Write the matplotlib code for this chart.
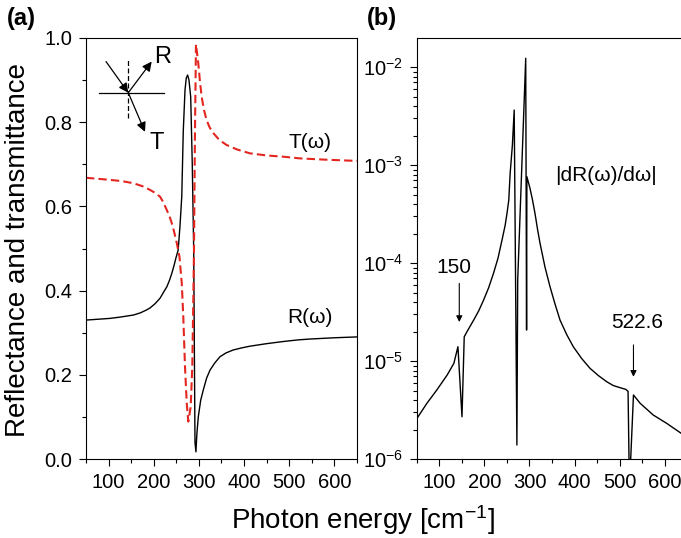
"""Reflectance/transmittance near the phonon resonance and |dR/dw| on a log scale."""

import matplotlib

matplotlib.use("Agg")
import matplotlib.pyplot as plt
from matplotlib.ticker import MultipleLocator, LogLocator, NullFormatter

plt.rcParams["font.family"] = ["Liberation Sans", "DejaVu Sans"]
plt.rcParams["mathtext.fontset"] = "custom"
plt.rcParams["mathtext.rm"] = "Liberation Sans"
plt.rcParams["mathtext.it"] = "Liberation Sans:italic"

# (a) reflectance R(w)
r_energy = [50, 103, 125, 155, 170, 184, 192, 203, 214, 221, 229, 235, 240, 245, 249,
            254, 258, 262, 265.4, 269.2, 272, 275, 278, 281.8, 285.3, 288.4, 291.3,
            293.4, 295.5, 298.6, 304, 309.7, 317, 324.5, 335, 346.7, 360, 376, 395,
            413, 450, 486, 520, 546, 600, 650]
r_value = [0.330, 0.334, 0.337, 0.342, 0.347, 0.354, 0.359, 0.369, 0.382, 0.395, 0.409,
           0.425, 0.441, 0.460, 0.477, 0.496, 0.552, 0.623, 0.780, 0.876, 0.905, 0.912,
           0.900, 0.860, 0.700, 0.500, 0.040, 0.017, 0.060, 0.100, 0.140, 0.164, 0.192,
           0.211, 0.228, 0.243, 0.252, 0.259, 0.264, 0.268, 0.274, 0.279, 0.283, 0.285,
           0.288, 0.290]

# (a) transmittance T(w)
t_energy = [50, 103, 130, 155, 175, 192, 203, 214, 221, 229, 235, 240, 245, 251, 257,
            262, 265.4, 269.2, 273, 276.5, 281.8, 285.3, 287.6, 289.1, 291.3, 293.5,
            298.6, 302, 306, 311, 317, 324, 332, 345, 361, 385, 413, 450, 487, 524,
            580, 650]
t_value = [0.668, 0.663, 0.660, 0.655, 0.648, 0.639, 0.632, 0.623, 0.610, 0.591, 0.576,
           0.560, 0.540, 0.513, 0.480, 0.418, 0.338, 0.219, 0.133, 0.089, 0.124, 0.219,
           0.378, 0.496, 0.780, 0.985, 0.940, 0.900, 0.861, 0.830, 0.805, 0.787, 0.774,
           0.758, 0.746, 0.735, 0.726, 0.721, 0.718, 0.714, 0.711, 0.708]

# (b) |dR/dw|
d_energy = [50, 72, 94, 117, 132, 141, 150, 155, 161, 176, 187, 198, 209, 220, 230,
            239, 246, 250, 254, 257, 262, 266, 272, 273.8, 291.6, 293.5, 294.2, 301,
            306.7, 312.2, 317.8, 323.3, 334.4, 345.6, 356.7, 367.8, 382.7, 397.3, 416,
            434.4, 452.9, 471.6, 486.2, 501, 514, 519, 522, 531, 546, 575, 605, 637]
d_value = [2.60e-6, 3.70e-6, 5.06e-6, 7.19e-6, 9.48e-6, 1.40e-5, 2.70e-6, 1.77e-5,
           1.99e-5, 2.62e-5, 3.24e-5, 4.19e-5, 5.56e-5, 7.85e-5, 1.12e-4, 1.72e-4,
           2.44e-4, 3.21e-4, 4.40e-4, 8.22e-4, 1.60e-3, 3.64e-3, 1.39e-6, 6.70e-5,
           1.23e-2, 2.07e-5, 7.60e-4, 5.82e-4, 4.40e-4, 3.21e-4, 2.22e-4, 1.60e-4,
           9.10e-5, 5.73e-5, 3.82e-5, 2.62e-5, 1.86e-5, 1.40e-5, 1.06e-5, 8.43e-6,
           7.11e-6, 6.15e-6, 5.62e-6, 5.35e-6, 5.14e-6, 4.90e-6, 5.0e-7, 4.50e-6,
           3.70e-6, 2.81e-6, 2.31e-6, 1.83e-6]

# marked features in (b): label, text x, text height, arrow x, arrow top, arrow tip
marks = [("150", 132, 8.9e-5, 144, 6.2e-5, 2.5e-5),
         ("522.6", 539, 2.46e-5, 531, 1.46e-5, 6.9e-6)]

RED = "#e3261f"
TICK_SIZE = 14.5

fig = plt.figure(figsize=(6.81, 5.38), dpi=100)
ax_a = fig.add_axes([0.1263, 0.1468, 0.3979, 0.7826])
ax_b = fig.add_axes([0.6123, 0.1468, 0.3906, 0.7826])

# ---- panel (a)
ax_a.plot(r_energy, r_value, color="black", lw=1.0)
ax_a.plot(t_energy, t_value, color=RED, lw=1.5, linestyle=(0, (4, 2)))
ax_a.set_xlim(50, 650)
ax_a.set_ylim(0, 1.0)
ax_a.xaxis.set_major_locator(MultipleLocator(100))
ax_a.xaxis.set_minor_locator(MultipleLocator(50))
ax_a.yaxis.set_major_locator(MultipleLocator(0.2))
ax_a.yaxis.set_minor_locator(MultipleLocator(0.1))
ax_a.yaxis.set_major_formatter(plt.FormatStrFormatter("%.1f"))
ax_a.text(545, 0.751, "T(ω)", fontsize=15, ha="center", va="center")
ax_a.text(545, 0.337, "R(ω)", fontsize=15, ha="center", va="center")

# little reflection/transmission sketch
arrow = dict(arrowstyle="-|>", color="black", lw=0.9, mutation_scale=14, shrinkA=0, shrinkB=0)
ax_a.plot([79.4, 222.7], [0.869, 0.869], color="black", lw=0.9)
ax_a.plot([143.6, 143.6], [0.810, 0.948], color="black", lw=0.9, linestyle=(0, (4, 2)))
ax_a.annotate("", xy=(143.6, 0.870), xytext=(94.3, 0.944), arrowprops=arrow)
ax_a.annotate("", xy=(195.4, 0.944), xytext=(143.6, 0.870), arrowprops=arrow)
ax_a.annotate("", xy=(180.6, 0.777), xytext=(143.6, 0.870), arrowprops=arrow)
ax_a.text(220.5, 0.955, "R", fontsize=17, ha="center", va="center")
ax_a.text(207.2, 0.751, "T", fontsize=17, ha="center", va="center")

# ---- panel (b)
ax_b.plot(d_energy, d_value, color="black", lw=1.0)
ax_b.set_yscale("log")
ax_b.set_xlim(50, 641)
ax_b.set_ylim(1e-6, 1.98e-2)
ax_b.xaxis.set_major_locator(MultipleLocator(100))
ax_b.xaxis.set_minor_locator(MultipleLocator(50))
ax_b.yaxis.set_major_locator(LogLocator(base=10, numticks=10))
ax_b.yaxis.set_minor_locator(LogLocator(base=10, subs=range(2, 10), numticks=10))
ax_b.yaxis.set_minor_formatter(NullFormatter())
ax_b.spines["right"].set_visible(False)
ax_b.text(357, 7.9e-4, "|dR(ω)/dω|", fontsize=15, ha="left", va="center")
for label, x_text, y_text, x_arrow, y_top, y_tip in marks:
    ax_b.text(x_text, y_text, label, fontsize=15, ha="center", va="center")
    ax_b.annotate("", xy=(x_arrow, y_tip), xytext=(x_arrow, y_top),
                  arrowprops=dict(arrowstyle="-|>", color="black", lw=0.8,
                                  mutation_scale=9, shrinkA=0, shrinkB=0))

for ax in (ax_a, ax_b):
    ax.tick_params(which="both", direction="out", labelsize=TICK_SIZE, top=False, right=False)
    ax.tick_params(which="major", length=5, width=0.8, pad=5)
    ax.tick_params(which="minor", length=3, width=0.8)
    for side in ax.spines.values():
        side.set_linewidth(0.8)

fig.text(0.010, 0.965, "(a)", fontsize=17, fontweight="bold", va="center")
fig.text(0.539, 0.965, "(b)", fontsize=17, fontweight="bold", va="center")
fig.text(0.027, 0.535, "Reflectance and transmittance", fontsize=20, rotation=90,
         ha="center", va="center")
fig.text(0.533, 0.034, "Photon energy [cm$^{-1}$]", fontsize=20, ha="center", va="center")

fig.savefig("out.png", dpi=100)
